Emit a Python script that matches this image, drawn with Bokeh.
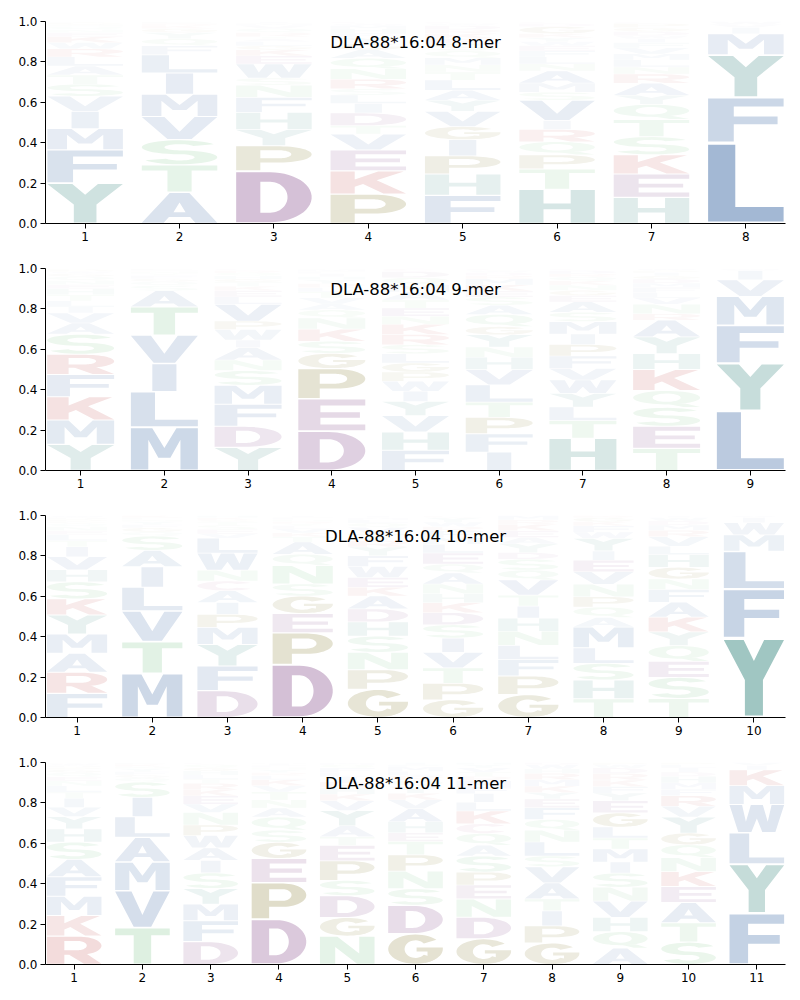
import numpy as np
from bokeh.plotting import figure
from bokeh.layouts import column
from bokeh.models import FixedTicker, PrintfTickFormatter, Range1d, Label, ColumnDataSource
from bokeh.embed import file_html
from bokeh.resources import INLINE

# ---------------- data (letter, frequency), listed bottom -> top ----------------
TITLES = ["DLA-88*16:04 8-mer", "DLA-88*16:04 9-mer", "DLA-88*16:04 10-mer", "DLA-88*16:04 11-mer"]

MER8 = [
    [("Y", .20), ("F", .165), ("M", .105), ("I", .085), ("V", .075), ("S", .06), ("T", .045), ("A", .045), ("L", .045), ("R", .04), ("W", .03), ("K", .03), ("E", .02), ("N", .015), ("Q", .015), ("H", .01), ("G", .01), ("D", .005)],
    [("A", .155), ("T", .135), ("S", .125), ("V", .115), ("M", .11), ("I", .105), ("L", .09), ("F", .045), ("Q", .035), ("Y", .03), ("G", .02), ("K", .015), ("R", .01), ("E", .01)],
    [("D", .26), ("P", .125), ("Y", .08), ("H", .085), ("F", .075), ("N", .06), ("S", .035), ("W", .07), ("E", .04), ("K", .03), ("G", .02), ("L", .02), ("A", .015), ("T", .01), ("R", .02), ("Q", .02), ("V", .015), ("M", .01), ("I", .01)],
    [("P", .14), ("K", .11), ("E", .10), ("V", .075), ("T", .04), ("D", .06), ("I", .045), ("L", .04), ("S", .03), ("R", .045), ("N", .05), ("Q", .05), ("A", .04), ("G", .03), ("Y", .03), ("F", .02), ("H", .02), ("M", .015), ("W", .01), ("C", .01)],
    [("F", .14), ("H", .105), ("P", .09), ("I", .08), ("G", .065), ("V", .075), ("Y", .055), ("A", .05), ("L", .05), ("T", .04), ("N", .035), ("M", .035), ("Q", .035), ("S", .035), ("E", .025), ("K", .025), ("R", .02), ("D", .02), ("W", .01), ("C", .01)],
    [("H", .17), ("T", .10), ("P", .07), ("Q", .065), ("R", .06), ("I", .045), ("V", .10), ("S", .04), ("M", .045), ("A", .06), ("N", .035), ("L", .035), ("F", .03), ("E", .025), ("W", .02), ("Y", .02), ("K", .02), ("G", .035), ("D", .015), ("C", .01)],
    [("H", .13), ("E", .115), ("K", .095), ("S", .09), ("T", .085), ("Q", .075), ("Y", .045), ("A", .06), ("R", .045), ("N", .035), ("L", .035), ("M", .03), ("V", .03), ("F", .025), ("I", .02), ("W", .015), ("D", .02), ("G", .02), ("P", .02), ("C", .01)],
    [("L", .40), ("F", .225), ("Y", .21), ("M", .105), ("I", .03), ("V", .015), ("W", .015)],
]

MER9 = [
    [("Y", .13), ("M", .12), ("K", .115), ("F", .11), ("R", .10), ("S", .10), ("A", .055), ("V", .05), ("I", .03), ("L", .03), ("T", .03), ("H", .03), ("E", .02), ("N", .02), ("Q", .02), ("G", .015), ("W", .01), ("P", .01), ("D", .005)],
    [("M", .215), ("L", .175), ("I", .14), ("V", .14), ("T", .14), ("A", .08), ("S", .025), ("Q", .02), ("G", .015), ("F", .015), ("Y", .01), ("N", .01), ("K", .005), ("E", .01)],
    [("Y", .11), ("D", .10), ("F", .105), ("M", .09), ("S", .07), ("N", .05), ("A", .06), ("I", .035), ("W", .05), ("P", .04), ("V", .08), ("L", .035), ("E", .03), ("K", .02), ("T", .02), ("G", .015), ("H", .015), ("Q", .015), ("R", .01), ("C", .01)],
    [("D", .195), ("E", .16), ("P", .15), ("G", .075), ("S", .06), ("K", .06), ("N", .055), ("Q", .04), ("A", .03), ("V", .03), ("T", .03), ("L", .02), ("R", .02), ("Y", .02), ("H", .015), ("I", .015), ("F", .01), ("M", .01), ("W", .005)],
    [("F", .10), ("H", .09), ("V", .08), ("Y", .07), ("I", .05), ("W", .05), ("P", .045), ("G", .045), ("L", .045), ("S", .045), ("R", .05), ("K", .05), ("N", .04), ("E", .04), ("T", .04), ("A", .04), ("M", .035), ("Q", .035), ("D", .03), ("C", .015)],
    [("I", .09), ("F", .09), ("P", .08), ("T", .075), ("L", .085), ("V", .075), ("H", .06), ("N", .05), ("Y", .06), ("G", .04), ("Q", .06), ("A", .045), ("S", .04), ("E", .03), ("K", .03), ("M", .03), ("R", .015), ("D", .015), ("W", .01), ("C", .01)],
    [("H", .155), ("T", .085), ("L", .065), ("Y", .065), ("W", .065), ("V", .055), ("F", .06), ("P", .055), ("I", .05), ("M", .06), ("S", .045), ("A", .05), ("E", .03), ("G", .025), ("N", .025), ("K", .02), ("Q", .02), ("R", .015), ("D", .015), ("C", .01)],
    [("T", .105), ("E", .105), ("S", .09), ("Q", .08), ("K", .10), ("H", .075), ("Y", .08), ("A", .08), ("R", .03), ("N", .045), ("V", .03), ("L", .025), ("F", .025), ("M", .02), ("D", .02), ("G", .015), ("I", .015), ("P", .01), ("W", .01)],
    [("L", .29), ("Y", .23), ("F", .185), ("M", .14), ("V", .08), ("I", .045), ("W", .01)],
]

MER10 = [
    [("F", .12), ("R", .105), ("A", .095), ("M", .095), ("Y", .095), ("K", .08), ("S", .085), ("H", .06), ("V", .065), ("I", .05), ("T", .03), ("L", .03), ("E", .02), ("N", .02), ("Q", .015), ("G", .01), ("P", .01), ("D", .01), ("W", .01)],
    [("M", .215), ("T", .155), ("V", .15), ("L", .115), ("I", .10), ("A", .08), ("S", .07), ("Q", .02), ("G", .02), ("F", .015), ("Y", .015), ("N", .01), ("E", .01), ("K", .01)],
    [("D", .125), ("F", .115), ("Y", .10), ("M", .08), ("P", .06), ("I", .055), ("A", .055), ("C", .045), ("N", .05), ("W", .08), ("L", .07), ("V", .02), ("E", .02), ("S", .02), ("T", .015), ("G", .01), ("K", .01), ("H", .01)],
    [("D", .26), ("P", .155), ("E", .095), ("G", .085), ("S", .06), ("N", .09), ("Q", .055), ("A", .06), ("T", .025), ("K", .02), ("V", .02), ("L", .015), ("Y", .01), ("R", .01), ("H", .01), ("F", .01), ("I", .01)],
    [("G", .13), ("P", .09), ("N", .08), ("S", .075), ("H", .065), ("D", .06), ("A", .06), ("K", .04), ("E", .045), ("W", .05), ("F", .05), ("Y", .04), ("R", .03), ("T", .03), ("V", .03), ("Q", .02), ("L", .015), ("M", .01), ("I", .01)],
    [("G", .08), ("P", .075), ("T", .07), ("V", .07), ("I", .065), ("S", .06), ("D", .055), ("K", .045), ("H", .04), ("N", .045), ("A", .05), ("Q", .04), ("E", .05), ("L", .04), ("M", .03), ("F", .03), ("R", .02), ("W", .02), ("Y", .02), ("C", .01)],
    [("G", .105), ("P", .085), ("F", .075), ("L", .065), ("N", .065), ("H", .06), ("I", .055), ("T", .05), ("V", .07), ("Q", .045), ("S", .05), ("D", .03), ("Y", .04), ("A", .03), ("E", .03), ("K", .03), ("R", .02), ("M", .02)],
    [("T", .09), ("H", .09), ("S", .08), ("L", .075), ("M", .10), ("A", .045), ("Q", .05), ("P", .05), ("N", .06), ("V", .06), ("E", .055), ("I", .045), ("Y", .06), ("W", .03), ("F", .03), ("K", .02), ("G", .02), ("R", .01)],
    [("T", .09), ("S", .10), ("E", .075), ("Q", .075), ("Y", .065), ("K", .07), ("A", .07), ("F", .06), ("N", .05), ("G", .055), ("H", .06), ("L", .04), ("V", .045), ("R", .03), ("M", .025), ("D", .02), ("W", .015), ("I", .01)],
    [("Y", .39), ("F", .24), ("L", .185), ("M", .08), ("W", .06), ("I", .025), ("V", .01)],
]

MER11 = [
    [("R", .14), ("K", .10), ("M", .095), ("F", .095), ("A", .085), ("S", .085), ("H", .065), ("Y", .06), ("V", .045), ("I", .045), ("T", .03), ("L", .03), ("N", .025), ("E", .02), ("Q", .02), ("G", .015), ("P", .01), ("D", .01), ("W", .01), ("C", .005)],
    [("T", .18), ("V", .18), ("M", .14), ("A", .12), ("L", .10), ("I", .095), ("S", .075), ("Q", .02), ("G", .015), ("F", .015), ("Y", .015), ("N", .01), ("K", .01), ("E", .01)],
    [("D", .11), ("F", .10), ("M", .08), ("Y", .075), ("S", .075), ("I", .06), ("A", .06), ("W", .06), ("P", .05), ("N", .06), ("V", .04), ("E", .04), ("K", .03), ("R", .03), ("T", .02), ("L", .02), ("H", .02), ("G", .015), ("Q", .015), ("C", .01)],
    [("D", .225), ("P", .18), ("E", .12), ("G", .08), ("S", .06), ("Q", .065), ("A", .045), ("N", .04), ("T", .04), ("V", .03), ("K", .03), ("L", .02), ("R", .015), ("Y", .015), ("H", .01), ("F", .01), ("I", .01), ("M", .005)],
    [("N", .13), ("G", .085), ("D", .10), ("S", .07), ("P", .09), ("E", .07), ("T", .04), ("A", .05), ("Y", .07), ("V", .045), ("K", .03), ("H", .03), ("R", .025), ("I", .025), ("L", .02), ("F", .02), ("Q", .015), ("M", .01)],
    [("G", .14), ("D", .13), ("S", .075), ("N", .08), ("P", .075), ("T", .06), ("E", .04), ("H", .05), ("A", .06), ("V", .04), ("K", .03), ("Y", .03), ("Q", .03), ("R", .02), ("L", .02), ("M", .02), ("F", .01), ("I", .01)],
    [("G", .12), ("D", .10), ("N", .085), ("E", .065), ("P", .06), ("S", .075), ("A", .05), ("Q", .055), ("C", .045), ("K", .06), ("L", .04), ("I", .04), ("F", .03), ("M", .03), ("R", .02), ("T", .02), ("V", .02), ("Y", .015), ("H", .01)],
    [("G", .10), ("P", .08), ("I", .07), ("T", .055), ("A", .075), ("V", .075), ("S", .05), ("L", .065), ("N", .055), ("Q", .05), ("F", .055), ("E", .04), ("Y", .03), ("K", .03), ("M", .03), ("R", .03), ("H", .02), ("W", .02), ("D", .01)],
    [("A", .075), ("Q", .075), ("H", .065), ("V", .075), ("N", .063), ("S", .065), ("I", .05), ("M", .06), ("T", .05), ("L", .05), ("G", .065), ("E", .055), ("Y", .035), ("F", .03), ("K", .03), ("R", .03), ("D", .025), ("W", .015), ("P", .01)],
    [("S", .105), ("T", .09), ("A", .095), ("E", .075), ("K", .07), ("N", .065), ("Q", .06), ("G", .055), ("Y", .075), ("V", .05), ("R", .05), ("F", .03), ("M", .03), ("H", .03), ("D", .02), ("I", .02), ("L", .015), ("P", .01)],
    [("F", .245), ("Y", .235), ("L", .15), ("W", .135), ("M", .09), ("K", .075), ("I", .02), ("V", .015)],
]

PANELS = [MER8, MER9, MER10, MER11]

# ---------------- colour scheme ----------------
BASE = {"blue": (101, 136, 183), "teal": (95, 158, 152), "purple": (147, 96, 152),
        "olive": (140, 130, 60), "red": (198, 88, 88), "green": (133, 200, 144),
        "pink": (190, 110, 160)}
CLASS = {}
for c in "AVLIMFW":
    CLASS[c] = "blue"
for c in "YH":
    CLASS[c] = "teal"
for c in "DE":
    CLASS[c] = "purple"
for c in "PG":
    CLASS[c] = "olive"
for c in "KR":
    CLASS[c] = "red"
for c in "STNQ":
    CLASS[c] = "green"
CLASS["C"] = "pink"


def letter_color(letter, h):
    a = min(1.0, 1.5 * h)
    r, g, b = BASE[CLASS[letter]]
    return "#%02x%02x%02x" % tuple(int(round(255 - a * (255 - ch))) for ch in (r, g, b))


# ---------------- glyph outlines in a unit box ----------------
def arc(cx, cy, rx, ry, a0, a1, n=28):
    t = np.radians(np.linspace(a0, a1, n))
    return list(zip(cx + rx * np.cos(t), cy + ry * np.sin(t)))


def p_bowl():
    return [[(0, 0), (.32, 0), (.32, .33), (.58, .33)] + arc(.58, .665, .42, .335, -90, 90) + [(0, 1)],
            [(.32, .5), (.56, .5)] + arc(.56, .67, .17, .17, -90, 90) + [(.32, .84)]]


SHAPES = {
    "A": [[[(0, 0), (.29, 0), (.36, .19), (.64, .19), (.71, 0), (1, 0), (.63, 1), (.37, 1)],
           [(.42, .35), (.5, .68), (.58, .35)]]],
    "C": [[arc(.5, .5, .5, .5, 40, 320, 40) + arc(.5, .5, .2, .3, 320, 40, 30)]],
    "D": [[[(0, 0), (.45, 0)] + arc(.45, .5, .55, .5, -90, 90) + [(0, 1)],
           [(.32, .19), (.45, .19)] + arc(.45, .5, .23, .31, -90, 90) + [(.32, .81)]]],
    "E": [[[(0, 0), (1, 0), (1, .19), (.33, .19), (.33, .41), (.92, .41), (.92, .59), (.33, .59),
            (.33, .81), (1, .81), (1, 1), (0, 1)]]],
    "F": [[[(0, 0), (.34, 0), (.34, .4), (.92, .4), (.92, .58), (.34, .58), (.34, .81), (1, .81),
            (1, 1), (0, 1)]]],
    "G": [[arc(.5, .5, .5, .5, 40, 320, 40) + arc(.5, .5, .2, .3, 320, 40, 30)],
          [arc(.5, .5, .5, .5, 290, 360, 12) + [(1, .56), (.52, .56), (.52, .42), (.72, .42), (.72, .22)]]],
    "H": [[[(0, 0), (.32, 0), (.32, .41), (.68, .41), (.68, 0), (1, 0), (1, 1), (.68, 1), (.68, .59),
            (.32, .59), (.32, 1), (0, 1)]]],
    "I": [[[(.32, 0), (.68, 0), (.68, 1), (.32, 1)]]],
    "K": [[[(0, 0), (.32, 0), (.32, .3), (.43, .43), (.7, 0), (1, 0), (.61, .6), (.97, 1), (.63, 1),
            (.32, .63), (.32, 1), (0, 1)]]],
    "L": [[[(0, 0), (1, 0), (1, .19), (.36, .19), (.36, 1), (0, 1)]]],
    "M": [[[(0, 0), (.26, 0), (.26, .72), (.41, .28), (.59, .28), (.74, .72), (.74, 0), (1, 0), (1, 1),
            (.68, 1), (.5, .52), (.32, 1), (0, 1)]]],
    "N": [[[(0, 0), (.28, 0), (.28, .62), (.68, 0), (1, 0), (1, 1), (.72, 1), (.72, .38), (.32, 1), (0, 1)]]],
    "P": [p_bowl()],
    "Q": [[arc(.5, .58, .5, .42, 0, 360, 48), arc(.5, .58, .21, .26, 0, 360, 36)],
          [[(.5, .2), (.75, 0), (1, 0), (.78, .22)]]],
    "R": [p_bowl(), [[(.4, .34), (.68, 0), (1, 0), (.72, .38), (.55, .38)]]],
    "S": [[arc(.5, .71, .5, .29, 25, 270) + arc(.5, .29, .2, .13, 90, -155)
           + arc(.5, .29, .5, .29, -155, 90) + arc(.5, .71, .2, .13, 270, 25)]],
    "T": [[[(.34, 0), (.66, 0), (.66, .81), (1, .81), (1, 1), (0, 1), (0, .81), (.34, .81)]]],
    "V": [[[(0, 1), (.34, 0), (.66, 0), (1, 1), (.7, 1), (.5, .33), (.3, 1)]]],
    "W": [[[(0, 1), (.16, 0), (.4, 0), (.5, .5), (.6, 0), (.84, 0), (1, 1), (.77, 1), (.7, .38),
            (.61, 1), (.39, 1), (.3, .38), (.23, 1)]]],
    "Y": [[[(0, 1), (.35, .47), (.35, 0), (.65, 0), (.65, .47), (1, 1), (.67, 1), (.5, .72), (.33, 1)]]],
}


def signed_area(ring):
    a = 0.0
    for i in range(len(ring)):
        x1, y1 = ring[i]
        x2, y2 = ring[(i + 1) % len(ring)]
        a += x1 * y2 - x2 * y1
    return a / 2


def orient(poly):
    out = []
    for k, ring in enumerate(poly):
        ring = list(ring)
        s = signed_area(ring)
        if (k == 0 and s < 0) or (k > 0 and s > 0):
            ring = ring[::-1]
        out.append(ring)
    return out


WIDTH = 0.8
VPAD = 0.05

figs = []
for title, panel in zip(TITLES, PANELS):
    n = len(panel)
    lo, hi = 0.58, n + 0.42
    p = figure(width=800, height=247, x_range=Range1d(lo, hi), y_range=Range1d(0, 1),
               output_backend="svg", toolbar_location=None,
               min_border_left=45, min_border_right=15, min_border_top=21, min_border_bottom=24,
               background_fill_color="white", border_fill_color="white")
    p.grid.visible = False
    p.outline_line_color = None
    p.xaxis.ticker = FixedTicker(ticks=list(range(1, n + 1)))
    p.yaxis.ticker = FixedTicker(ticks=[0.0, 0.2, 0.4, 0.6, 0.8, 1.0])
    p.yaxis.formatter = PrintfTickFormatter(format="%.1f")
    for ax in (p.xaxis[0], p.yaxis[0]):
        ax.major_tick_out = 5
        ax.major_tick_in = 0
        ax.minor_tick_out = 0
        ax.minor_tick_in = 0
        ax.axis_line_color = "black"
        ax.axis_line_width = 1
        ax.major_tick_line_color = "black"
        ax.major_label_text_color = "black"
        ax.major_label_text_font = "DejaVu Sans"
        ax.major_label_text_font_size = "12px"
        ax.major_label_standoff = 3

    src = dict(xs=[], ys=[], color=[])
    for j, col in enumerate(panel):
        pos = j + 1
        total = sum(v for _, v in col)
        y0 = 0.0
        for letter, v in col:
            h = v / total
            color = letter_color(letter, h)
            bot = y0 + h * VPAD / 2
            hh = h * (1 - VPAD)
            x0 = pos - WIDTH / 2
            for poly in SHAPES[letter]:
                poly = orient(poly)
                rxs = [[x0 + u * WIDTH for u, _ in ring] for ring in poly]
                rys = [[bot + w * hh for _, w in ring] for ring in poly]
                src["xs"].append([rxs])
                src["ys"].append([rys])
                src["color"].append(color)
            y0 += h
    p.multi_polygons(xs="xs", ys="ys", fill_color="color", line_color=None,
                     source=ColumnDataSource(src))
    p.add_layout(Label(x=(lo + hi) / 2, y=0.896, text=title, text_align="center",
                       text_baseline="alphabetic", text_font="DejaVu Sans",
                       text_font_size="16.5px", text_color="black"))
    figs.append(p)

layout = column(*figs)
open("out.html", "w").write(file_html(layout, INLINE))
